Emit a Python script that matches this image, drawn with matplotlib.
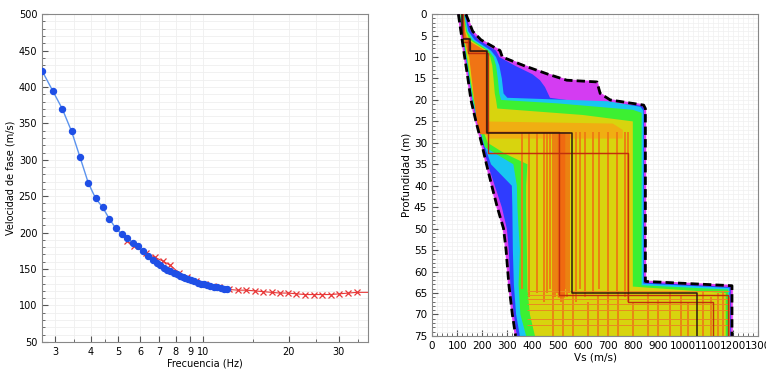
import matplotlib
matplotlib.use("Agg")
import matplotlib.pyplot as plt
from matplotlib.ticker import FixedLocator, MultipleLocator, NullFormatter

# --- curva de dispersion (panel izquierdo) ---
obs_f = [2.70, 2.94, 3.18, 3.43, 3.67, 3.93, 4.17, 4.41, 4.66, 4.91, 5.16, 5.39, 5.65, 5.87,
         6.11, 6.37, 6.62, 6.84, 7.05, 7.25, 7.45, 7.65, 7.85, 8.05, 8.25, 8.45, 8.65, 8.85,
         9.05, 9.3, 9.55, 9.8, 10.05, 10.3, 10.6, 10.9, 11.2, 11.5, 11.8, 12.1]
obs_v = [422, 395, 370, 339, 304, 268, 247, 235, 219, 206, 198, 192, 186, 181,
         175, 168, 162, 158, 155, 152, 149, 147, 145, 143, 141, 139, 137.5, 136,
         134.5, 133, 131.5, 130, 129, 128, 127, 126, 125, 124, 123, 122]

teo_f = [5.37, 5.7, 6.3, 6.75, 7.2, 7.65, 8.2, 8.75, 9.4, 10.1, 10.8, 11.4, 12.3, 13.2,
         14.2, 15.2, 16.2, 17.4, 18.6, 19.9, 21.3, 22.8, 24.5, 26.3, 28.2, 30.2, 32.5, 34.8, 38.0]
teo_v = [189, 181, 172, 166, 161, 155, 145, 139, 134, 130, 127, 125, 122, 121,
         121, 120, 119, 118, 117, 117, 116, 115, 115, 115, 115, 116, 117, 118, 118]

freq_ticks = [3, 4, 5, 6, 7, 8, 9, 10, 20, 30]

# --- perfiles Vs (panel derecho) ---
# envolvente maxima y minima (lineas discontinuas)
max_vs = [135, 162, 195, 271, 280, 366, 462, 537, 657, 670, 710, 843, 850, 850, 1195, 1195]
max_d = [0, 4, 6, 8.5, 10, 12, 14, 15.4, 15.8, 18.5, 20, 21.2, 22, 62.3, 63.3, 75]
min_vs = [105, 120, 130, 143, 155, 175, 197, 217, 238, 260, 285, 295, 306, 320, 333]
min_d = [0, 6, 10, 15, 20, 25, 30, 35, 40, 45, 50, 55, 63, 70, 75]

# zonas por nivel de misfit (de peor a mejor)
blu_vs = [132, 155, 185, 255, 268, 330, 400, 430, 450, 470, 560, 835, 845, 845, 1190, 1190,
          338, 326, 312, 306, 298, 278, 250, 222, 200, 177, 157, 145, 132, 122, 108]
blu_d = [0, 4, 6, 8.5, 10, 12, 14, 15.4, 17, 19.5, 20.2, 21.3, 22, 62.5, 63.6, 75,
         75, 70, 63, 55, 50, 45, 40, 35, 30, 25, 20, 15, 10, 6, 0]
cya_vs = [130, 145, 170, 235, 255, 268, 278, 285, 300, 700, 830, 842, 842, 1185, 1185,
          350, 335, 326, 322, 320, 318, 235, 205, 180, 160, 148, 135, 124, 110]
cya_d = [0, 4, 6, 8.5, 10, 12, 15, 18.5, 19.5, 20.3, 21.6, 22.5, 62.8, 63.8, 75,
         75, 70, 63, 55, 45, 40, 35, 30, 25, 20, 15, 10, 6, 0]
grn_vs = [128, 140, 160, 225, 245, 255, 262, 268, 275, 500, 800, 835, 835, 1180, 1180,
          375, 352, 345, 350, 345, 340, 338, 324, 210, 185, 163, 150, 138, 126, 112]
grn_d = [0, 4, 6, 8.5, 10, 12, 15, 18.5, 20, 20.8, 22.3, 23, 63.2, 64.2, 75,
         75, 70, 63, 55, 50, 45, 40, 35, 31, 25, 20, 15, 10, 6, 0]
yel_vs = [126, 135, 150, 218, 232, 240, 245, 250, 255, 260, 600, 800, 800, 1170, 1170,
          410, 390, 380, 378, 375, 375, 380, 290, 222, 190, 167, 153, 140, 128, 114]
yel_d = [0, 4, 6, 8.5, 10, 12, 15, 18.5, 20, 22, 23.5, 25, 63.5, 65, 75,
         75, 70, 64, 55, 45, 40, 35, 32.5, 30, 25, 20, 15, 10, 6, 0]
band_vs = [190, 720, 760, 760, 230, 200]
band_d = [25, 25.5, 27, 29, 29, 27]
ora_vs = [126, 132, 140, 212, 218, 220, 222, 190, 178, 168, 158, 148, 140, 130, 122, 116]
ora_d = [0, 4, 6, 8.5, 10, 20, 28, 28, 25, 20, 15, 10, 8.5, 6, 4, 0]

# lineas verticales de modelos buenos
mid_lines_vs = [360, 385, 420, 445, 460, 470, 482, 490, 498, 505, 512, 520, 528, 537, 545,
                575, 590, 610, 640, 665, 700, 735, 770, 782]
mid_lines_bot = [64, 66, 65, 67, 65, 64, 66, 66, 65, 65, 67, 66, 64, 66, 65, 67, 64, 66,
                 65, 64, 67, 65, 66, 67]
bot_lines_vs = [480, 520, 560, 620, 660, 700, 740, 800, 860, 900, 950, 990, 1020, 1080,
                1110, 1140, 1160, 1185]
bot_lines_top = [65, 66, 64.5, 67, 65.5, 66, 64.5, 67, 65, 66.5, 64.5, 65.5, 67, 64.5,
                 66, 65, 64.5, 66]
bot_hlines_d = [64.5, 65.5, 66.5, 67.5, 69, 71, 72.5]

# mejor modelo y otros modelos de bajo misfit
best_vs = [120, 150, 219, 558, 1054]
best_bot = [5.8, 8.7, 27.8, 65, 75]
red1_vs = [118, 145, 222, 780, 1120]
red1_bot = [5.5, 9, 32.3, 67, 75]
red2_vs = [122, 152, 216, 505, 1180]
red2_bot = [6.5, 8.5, 27.5, 65.5, 75]


def perfil(vs, bot):
    xs, ys = [], []
    top = 0
    for v, b in zip(vs, bot):
        xs += [v, v]
        ys += [top, b]
        top = b
    return xs, ys


plt.rcParams['font.family'] = 'DejaVu Sans'
fig = plt.figure(figsize=(7.66, 3.72), dpi=100)

# ---------------- panel izquierdo ----------------
ax1 = fig.add_axes([0.055, 0.081, 0.425, 0.881])
ax1.set_xscale('log')
ax1.plot(teo_f, teo_v, color='#e83838', lw=0.8, marker='x', ms=5, mew=0.9,
         markevery=list(range(len(teo_f) - 1)), zorder=3)
ax1.plot(obs_f, obs_v, color='#5b93ee', lw=1.0, marker='o', ms=4.3,
         mfc='#1f4fe6', mec='#1f4fe6', zorder=4)
ax1.set_xlim(2.7, 38)
ax1.set_ylim(50, 500)
ax1.xaxis.set_major_locator(FixedLocator(freq_ticks))
ax1.xaxis.set_minor_locator(FixedLocator([3.5, 4.5, 15, 25, 35]))
ax1.set_xticklabels([str(t) for t in freq_ticks])
ax1.xaxis.set_minor_formatter(NullFormatter())
ax1.yaxis.set_major_locator(MultipleLocator(50))
ax1.yaxis.set_minor_locator(MultipleLocator(10))
ax1.grid(which='both', color='#efefef', lw=0.6)
ax1.set_axisbelow(True)
ax1.tick_params(which='both', direction='in', labelsize=7, color='#555555')
ax1.tick_params(which='major', length=4)
ax1.tick_params(which='minor', length=2)
ax1.set_xlabel('Frecuencia (Hz)', fontsize=7, labelpad=1)
ax1.set_ylabel('Velocidad de fase (m/s)', fontsize=7, labelpad=2)
for s in ax1.spines.values():
    s.set_color('#888888')
    s.set_linewidth(0.8)

# ---------------- panel derecho ----------------
ax2 = fig.add_axes([0.564, 0.097, 0.426, 0.865])
env_vs = max_vs + min_vs[::-1]
env_d = max_d + min_d[::-1]
zonas = [
    (env_vs, env_d, '#d43cf2'),
    (blu_vs, blu_d, '#2f3cff'),
    (cya_vs, cya_d, '#18c6f2'),
    (grn_vs, grn_d, '#3cf032'),
    (yel_vs, yel_d, '#d8d40e'),
    (band_vs, band_d, '#f0ae12'),
    (ora_vs, ora_d, '#f07414'),
]
for vs, d, c in zonas:
    ax2.fill(vs, d, color=c, lw=0, zorder=2)

ax2.vlines(mid_lines_vs, 27.5, mid_lines_bot, color='#ee7a12', lw=1.3, zorder=3)
ax2.vlines([505, 512, 520], 27.5, 66, color='#f06a10', lw=2.5, zorder=3)
ax2.vlines(bot_lines_vs, bot_lines_top, 75, color='#ec7a14', lw=1.2, zorder=3)
ax2.hlines(bot_hlines_d, 380, 1185, color='#e98a20', lw=0.7, zorder=3)
ax2.hlines([32.3], 222, 780, color='#d04a10', lw=0.8, zorder=3)

for vs, bot in [(red1_vs, red1_bot), (red2_vs, red2_bot)]:
    x, y = perfil(vs, bot)
    ax2.plot(x, y, color='#c0300c', lw=1.0, zorder=4)
x, y = perfil(best_vs, best_bot)
ax2.plot(x, y, color='#2a1a10', lw=1.1, zorder=5)

for vs, d in [(max_vs, max_d), (min_vs, min_d)]:
    ax2.plot(vs, d, color='#e040f0', lw=1.2, zorder=5)
    ax2.plot(vs, d, color='black', lw=2.0, ls=(0, (3, 1.5)), zorder=6)

ax2.set_xlim(0, 1300)
ax2.set_ylim(75, 0)
ax2.xaxis.set_major_locator(MultipleLocator(100))
ax2.xaxis.set_minor_locator(MultipleLocator(20))
ax2.yaxis.set_major_locator(MultipleLocator(5))
ax2.yaxis.set_minor_locator(MultipleLocator(1))
ax2.grid(which='both', color='#f0f0f0', lw=0.5)
ax2.set_axisbelow(True)
ax2.tick_params(which='both', direction='in', labelsize=7.5, color='#555555')
ax2.tick_params(which='major', length=4)
ax2.tick_params(which='minor', length=2)
ax2.set_xlabel('Vs (m/s)', fontsize=7.5, labelpad=1)
ax2.set_ylabel('Profundidad (m)', fontsize=7.5, labelpad=2)
for s in ax2.spines.values():
    s.set_color('#888888')
    s.set_linewidth(0.8)

fig.savefig('out.png', dpi=100)
